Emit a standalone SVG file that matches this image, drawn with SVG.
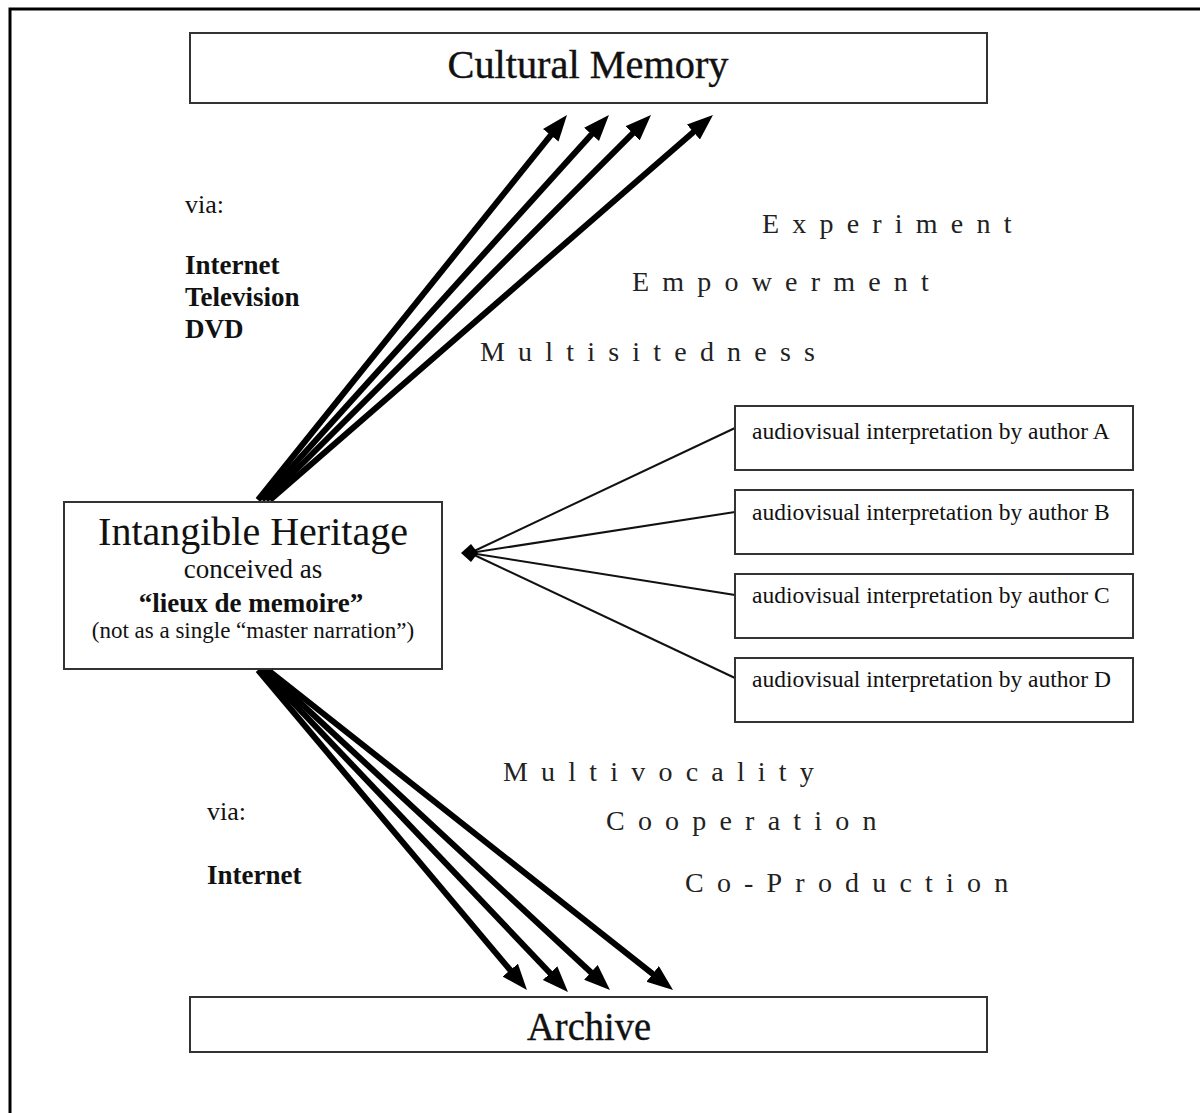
<svg xmlns="http://www.w3.org/2000/svg" width="1200" height="1113" viewBox="0 0 1200 1113">
<style>
text{font-family:"Liberation Serif","Times New Roman",serif;fill:#111}
.box{fill:#fff;stroke:#333;stroke-width:2}
.title{font-size:40px;text-anchor:middle;stroke:#111;stroke-width:0.4}
.auth{font-size:23.5px}
.sp{font-size:28px;letter-spacing:13.2px;fill:#222}
.lbl{font-size:26px}
.bld{font-size:27px;font-weight:bold}
.big{stroke:#000;stroke-width:6;fill:none;marker-end:url(#ah)}
.thin{stroke:#111;stroke-width:2;fill:none}
</style>
<defs>
<marker id="ah" markerUnits="userSpaceOnUse" markerWidth="28" markerHeight="22" refX="15" refY="10" orient="auto">
<path d="M0,0 L26,10 L0,20 z" fill="#000"/>
</marker>
</defs>
<rect width="1200" height="1113" fill="#fff"/>
<path d="M10,1113 L10,9 L1200,9" fill="none" stroke="#000" stroke-width="3"/>

<g id="connectors">
<line class="big" x1="258" y1="500" x2="560.1" y2="123.6"/>
<line class="big" x1="262" y1="500" x2="601.6" y2="123.2"/>
<line class="big" x1="266" y1="500" x2="643.2" y2="122.8"/>
<line class="big" x1="270" y1="500" x2="704.7" y2="122.2"/>
<line class="big" x1="258" y1="670" x2="519.9" y2="981.6"/>
<line class="big" x1="262" y1="670" x2="560.4" y2="984.0"/>
<line class="big" x1="265" y1="670" x2="601.9" y2="982.5"/>
<line class="big" x1="268" y1="670" x2="664.4" y2="983.2"/>
<line class="thin" x1="470" y1="553" x2="735" y2="428"/>
<line class="thin" x1="470" y1="553" x2="735" y2="512"/>
<line class="thin" x1="470" y1="553" x2="735" y2="595"/>
<line class="thin" x1="470" y1="553" x2="735" y2="678"/>
<polygon points="461,553 471,544 478,553 471,562" fill="#000"/>
</g>

<g id="cultural-memory">
<rect class="box" x="190" y="33" width="797" height="70"/>
<text class="title" x="588" y="78" textLength="281" lengthAdjust="spacingAndGlyphs">Cultural Memory</text>
</g>

<g id="archive">
<rect class="box" x="190" y="997" width="797" height="55"/>
<text class="title" x="589" y="1040" textLength="124" lengthAdjust="spacingAndGlyphs">Archive</text>
</g>

<g id="intangible-heritage">
<rect class="box" x="64" y="502" width="378" height="167"/>
<text x="253" y="545" text-anchor="middle" font-size="40">Intangible Heritage</text>
<text x="253" y="578" text-anchor="middle" font-size="27">conceived as</text>
<text x="251" y="612" text-anchor="middle" font-size="27" font-weight="bold">“lieux de memoire”</text>
<text x="253" y="638" text-anchor="middle" font-size="23">(not as a single “master narration”)</text>
</g>

<g id="author-a">
<rect class="box" x="735" y="406" width="398" height="64"/>
<text class="auth" x="752" y="439">audiovisual interpretation by author A</text>
</g>
<g id="author-b">
<rect class="box" x="735" y="490" width="398" height="64"/>
<text class="auth" x="752" y="520">audiovisual interpretation by author B</text>
</g>
<g id="author-c">
<rect class="box" x="735" y="574" width="398" height="64"/>
<text class="auth" x="752" y="603">audiovisual interpretation by author C</text>
</g>
<g id="author-d">
<rect class="box" x="735" y="658" width="398" height="64"/>
<text class="auth" x="752" y="687">audiovisual interpretation by author D</text>
</g>

<g id="labels">
<text class="lbl" x="185" y="213">via:</text>
<text class="bld" x="185" y="274">Internet</text>
<text class="bld" x="185" y="306">Television</text>
<text class="bld" x="185" y="338">DVD</text>
<text class="lbl" x="207" y="820">via:</text>
<text class="bld" x="207" y="884">Internet</text>
<text class="sp" x="762" y="233">Experiment</text>
<text class="sp" x="632" y="291">Empowerment</text>
<text class="sp" x="480" y="361">Multisitedness</text>
<text class="sp" x="503" y="781">Multivocality</text>
<text class="sp" x="606" y="830">Cooperation</text>
<text class="sp" x="685" y="892">Co-Production</text>
</g>
</svg>
